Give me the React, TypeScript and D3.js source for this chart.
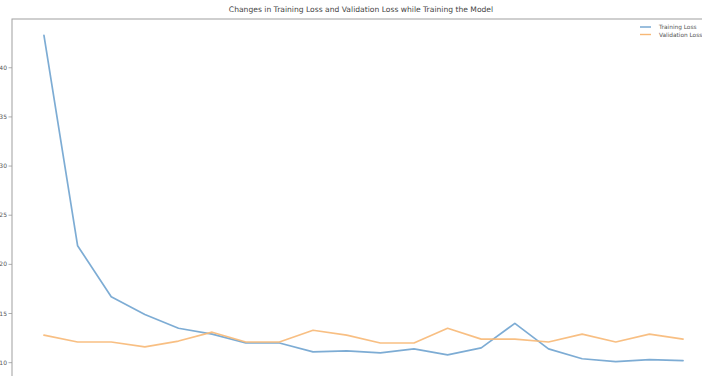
import React from 'react';
import * as d3 from 'd3';

const epochs = d3.range(20);
const trainingLoss = [0.433, 0.219, 0.167, 0.149, 0.135, 0.129, 0.12, 0.12, 0.111, 0.112, 0.11, 0.114, 0.108, 0.115, 0.14, 0.114, 0.104, 0.101, 0.103, 0.102];
const validationLoss = [0.128, 0.121, 0.121, 0.116, 0.122, 0.131, 0.121, 0.121, 0.133, 0.128, 0.12, 0.12, 0.135, 0.124, 0.124, 0.121, 0.129, 0.121, 0.129, 0.124];
const yTicks = [0.1, 0.15, 0.2, 0.25, 0.3, 0.35, 0.4];
const seriesNames = ['Training Loss', 'Validation Loss'];

const W = 702;
const H = 376;

export default function App() {
  // axes box runs a little past the picture on the right and bottom (cropped plot)
  const left = 12;
  const top = 19;
  const right = 12 + 703;
  const bottom = 378;

  const x = d3.scaleLinear().domain([-0.95, 19.95]).range([left, right]);
  const allVals = trainingLoss.concat(validationLoss);
  const [lo, hi] = d3.extent(allVals) as [number, number];
  const pad = (hi - lo) * 0.05;
  const y = d3.scaleLinear().domain([lo - pad, hi + pad]).range([bottom, top]);

  const line = d3
    .line<number>()
    .x((_, i) => x(epochs[i]))
    .y((d) => y(d));

  const colors = ['#6fa3cf', '#f7b876'];

  return (
    <svg width={W} height={H} style={{ position: 'absolute', left: 0, top: 0, background: '#fff' }}
      fontFamily="DejaVu Sans, sans-serif">
      <rect x={0} y={0} width={W} height={H} fill="#fff" />

      {/* title */}
      <text x={361} y={12} textAnchor="middle" fontSize={7.6} fill="#444">
        Changes in Training Loss and Validation Loss while Training the Model
      </text>

      {/* frame */}
      <rect x={left} y={top} width={right - left} height={bottom - top} fill="none" stroke="#a0a0a0" strokeWidth={1} />

      {/* y ticks, labels clipped by the left edge like the reference */}
      {yTicks.map((t) => (
        <g key={t} transform={`translate(0,${y(t)})`}>
          <line x1={left - 3.5} x2={left} stroke="#9a9a9a" strokeWidth={0.8} />
          <text x={left - 5} dy="0.35em" textAnchor="end" fontSize={6} fill="#555">
            {t.toFixed(2)}
          </text>
        </g>
      ))}

      {/* series */}
      {[trainingLoss, validationLoss].map((s, i) => (
        <path key={i} d={line(s) || ''} fill="none" stroke={colors[i]} strokeWidth={1.7}
          strokeLinejoin="round" strokeLinecap="round" opacity={0.9} />
      ))}

      {/* legend */}
      {seriesNames.map((name, i) => (
        <g key={name} transform={`translate(640,${27 + i * 7.5})`}>
          <line x1={0} x2={11} stroke={colors[i]} strokeWidth={1.4} />
          <text x={19} dy="0.35em" fontSize={5.8} fill="#555">{name}</text>
        </g>
      ))}
    </svg>
  );
}
